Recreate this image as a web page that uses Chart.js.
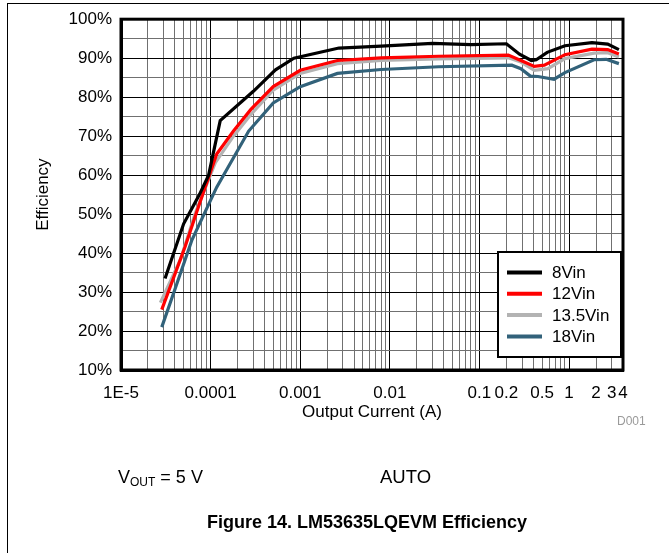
<!DOCTYPE html>
<html>
<head>
<meta charset="utf-8">
<script src="https://cdn.jsdelivr.net/npm/chart.js@4/dist/chart.umd.min.js"></script>
<style>
  html, body { margin: 0; padding: 0; background: #fff; }
  body { width: 669px; height: 553px; position: relative; overflow: hidden; font-family: "Liberation Sans", Arial, sans-serif; }
  #frame { position: absolute; left: 7px; top: 3px; width: 670px; height: 560px; border-left: 1.5px solid #000; border-top: 1.5px solid #000; }
  #wrap { position: absolute; left: 0; top: 0; width: 669px; height: 553px; }
  .txt { position: absolute; color: #000; white-space: nowrap; line-height: 1; }
</style>
</head>
<body>
<div id="frame"></div>
<div id="wrap"><canvas id="c" width="669" height="553"></canvas></div>
<div class="txt" style="left:617px; top:415px; font-size:12px; color:#9a9a9a;">D001</div>
<div class="txt" style="left:118px; top:468px; font-size:18px;">V<sub style="font-size:12px; vertical-align:-3px;">OUT</sub> = 5 V</div>
<div class="txt" style="left:380px; top:468px; font-size:18.5px;">AUTO</div>
<div class="txt" style="left:0; width:734px; text-align:center; top:513px; font-size:18px; font-weight:bold;">Figure 14. LM53635LQEVM Efficiency</div>
<script>
// ---- data ----
const seriesLabels = ['8Vin', '12Vin', '13.5Vin', '18Vin'];
const seriesColors = ['#000000', '#ff0000', '#b3b3b3', '#32627a'];

const current8 = [3.1e-5, 5.0e-5, 7.5e-5, 9.5e-5, 1.28e-4, 3.0e-4, 5.3e-4, 8.5e-4, 2.7e-3, 8e-3, 0.03, 0.08, 0.2, 0.28, 0.38, 0.43, 0.57, 0.9, 1.8, 2.7, 3.6];
const eff8     = [33.5, 47.5, 55.0, 60.0, 74.0, 81.5, 87.0, 90.0, 92.6, 93.1, 93.8, 93.5, 93.7, 91.0, 89.4, 89.6, 91.5, 93.2, 94.0, 93.6, 92.2];

const current12 = [2.85e-5, 5.2e-5, 7.3e-5, 1.17e-4, 1.8e-4, 2.8e-4, 5e-4, 1e-3, 2.6e-3, 8e-3, 0.035, 0.21, 0.29, 0.41, 0.53, 0.9, 1.8, 2.7, 3.6];
const eff12     = [25.5, 41.7, 51.8, 65.4, 71.3, 76.8, 82.7, 86.9, 89.4, 90.1, 90.5, 90.8, 89.4, 87.9, 88.2, 90.9, 92.3, 92.2, 91.1];

const current135 = [2.75e-5, 4.6e-5, 6.7e-5, 1.13e-4, 1.8e-4, 2.8e-4, 5e-4, 1e-3, 2.6e-3, 8e-3, 0.035, 0.21, 0.29, 0.41, 0.58, 0.9, 1.9, 2.7, 3.6];
const eff135     = [27.3, 38.3, 50.1, 63.2, 70.0, 75.5, 81.8, 86.1, 88.6, 89.4, 89.8, 90.1, 89.0, 86.9, 87.3, 89.9, 91.3, 91.4, 90.3];

const current18 = [2.85e-5, 4e-5, 6.2e-5, 1.17e-4, 2.66e-4, 5e-4, 1e-3, 2.6e-3, 8e-3, 0.035, 0.23, 0.29, 0.37, 0.45, 0.68, 0.9, 1.9, 2.6, 3.6];
const eff18     = [21.0, 30.7, 43.4, 56.9, 71.3, 78.5, 82.7, 86.1, 87.1, 87.8, 88.2, 87.3, 85.4, 85.3, 84.6, 86.3, 89.6, 89.7, 88.6];

const xTickValues = [1e-5, 1e-4, 1e-3, 0.01, 0.1, 0.2, 0.5, 1, 2, 3, 4];
const xTickLabels = ['1E-5', '0.0001', '0.001', '0.01', '0.1', '0.2', '0.5', '1', '2', '3', '4'];
const yTickValues = [10, 20, 30, 40, 50, 60, 70, 80, 90, 100];
const yTickLabels = ['10%', '20%', '30%', '40%', '50%', '60%', '70%', '80%', '90%', '100%'];

const xMin = 1e-5, xMax = 4, yMin = 10, yMax = 100;

// ---- build ----
const currents = [current8, current12, current135, current18];
const effs = [eff8, eff12, eff135, eff18];

const datasets = seriesLabels.map((lab, k) => ({
  label: lab,
  data: currents[k].map((x, i) => ({ x: x, y: effs[k][i] })),
  borderColor: seriesColors[k],
  backgroundColor: seriesColors[k],
  borderWidth: 3.2,
  pointRadius: 0,
  tension: 0,
  fill: false
}));

// all log grid positions
const xGrid = [];
for (let e = -5; e <= -1; e++) {
  for (let m = 1; m <= 9; m++) xGrid.push(m * Math.pow(10, e));
}
[1, 2, 3, 4].forEach(v => xGrid.push(v));

function near(a, b) { return Math.abs(a / b - 1) < 1e-6; }
function isDecade(v) { const l = Math.log10(v); return Math.abs(l - Math.round(l)) < 1e-6; }

const FONT = '"Liberation Sans", Arial, sans-serif';
Chart.defaults.font.family = FONT;
Chart.defaults.color = '#000';

const framePlugin = {
  id: 'framePlugin',
  afterDatasetsDraw(chart) {
    const ctx = chart.ctx, a = chart.chartArea;
    ctx.save();
    // plot border
    ctx.strokeStyle = '#000';
    ctx.lineWidth = 3;
    ctx.strokeRect(a.left, a.top, a.right - a.left, a.bottom - a.top);
    // legend
    const w = 123, h = 105;
    const lx = a.right - 125, ly = a.bottom - 118;
    ctx.fillStyle = '#fff';
    ctx.fillRect(lx, ly, w, h);
    ctx.lineWidth = 2;
    ctx.strokeRect(lx, ly, w, h);
    ctx.font = '17px ' + FONT;
    ctx.textBaseline = 'middle';
    ctx.textAlign = 'left';
    chart.data.datasets.forEach((ds, i) => {
      const yy = ly + 20.5 + i * 21.3;
      ctx.strokeStyle = ds.borderColor;
      ctx.lineWidth = 4;
      ctx.beginPath();
      ctx.moveTo(lx + 9, yy);
      ctx.lineTo(lx + 44, yy);
      ctx.stroke();
      ctx.fillStyle = '#000';
      ctx.fillText(ds.label, lx + 54, yy + 1);
    });
    ctx.restore();
  }
};

new Chart(document.getElementById('c'), {
  type: 'line',
  data: { datasets: datasets },
  plugins: [framePlugin],
  options: {
    responsive: false,
    animation: false,
    devicePixelRatio: 1,
    layout: { padding: { left: 0, top: 15, right: 46, bottom: 130 } },
    plugins: { legend: { display: false }, tooltip: { enabled: false } },
    scales: {
      x: {
        type: 'logarithmic',
        min: xMin,
        max: xMax,
        afterFit(scale) { scale.height = 53; },
        afterBuildTicks(scale) { scale.ticks = xGrid.map(v => ({ value: v })); },
        border: { display: true, color: '#000', width: 3 },
        grid: {
          drawTicks: false,
          lineWidth: 1,
          color: (c) => (c.tick && isDecade(c.tick.value)) ? '#000' : '#707070'
        },
        ticks: {
          autoSkip: false,
          maxRotation: 0,
          minRotation: 0,
          padding: 13,
          font: { size: 17 },
          color: '#000',
          callback: (v) => {
            const i = xTickValues.findIndex(t => near(v, t));
            return i >= 0 ? xTickLabels[i] : '';
          }
        },
        title: { display: true, text: 'Output Current (A)', font: { size: 17 }, color: '#000', padding: { top: 0, bottom: 0 } }
      },
      y: {
        type: 'linear',
        min: yMin,
        max: yMax,
        afterFit(scale) { scale.width = 121; },
        border: { display: true, color: '#000', width: 3 },
        grid: {
          drawTicks: false,
          lineWidth: 1,
          color: (c) => (c.tick && c.tick.value % 10 === 0) ? '#000' : '#707070'
        },
        ticks: {
          stepSize: 5,
          autoSkip: false,
          padding: 9,
          font: { size: 17 },
          color: '#000',
          callback: (v) => {
            const i = yTickValues.indexOf(v);
            return i >= 0 ? yTickLabels[i] : '';
          }
        },
        title: { display: true, text: 'Efficiency', font: { size: 17 }, color: '#000', padding: { top: 33, bottom: 0 } }
      }
    }
  }
});
</script>
</body>
</html>
